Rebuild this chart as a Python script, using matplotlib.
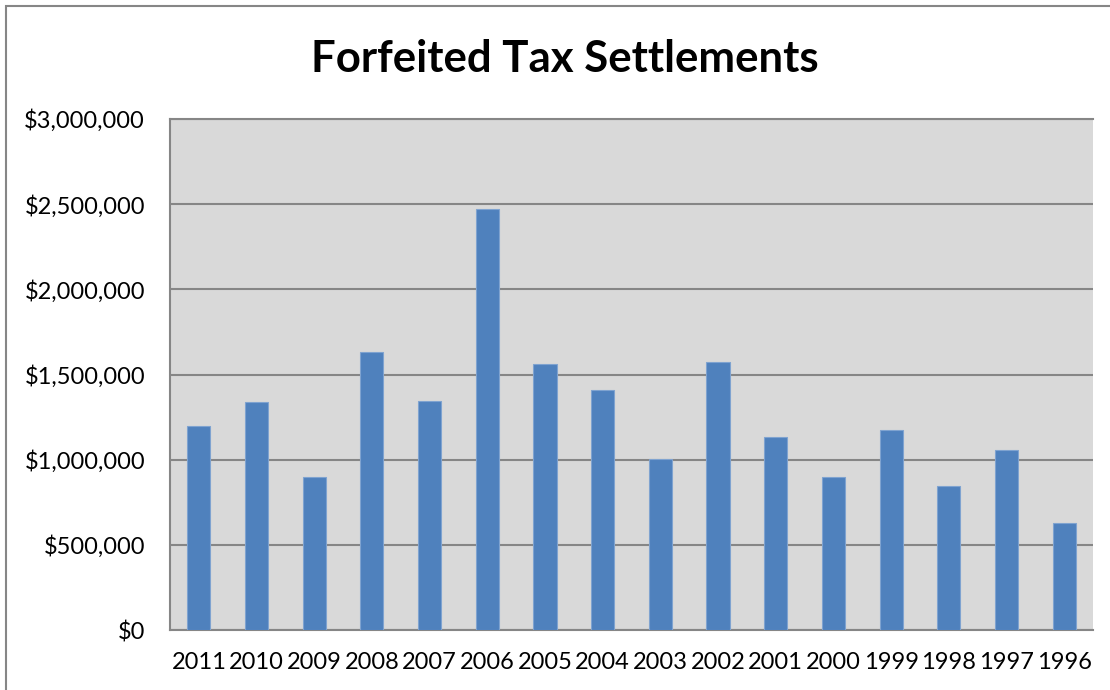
import matplotlib
matplotlib.use("Agg")
import matplotlib.pyplot as plt
from matplotlib.patches import Rectangle
from matplotlib.ticker import FuncFormatter

years = ["2011", "2010", "2009", "2008", "2007", "2006", "2005", "2004",
         "2003", "2002", "2001", "2000", "1999", "1998", "1997", "1996"]
settlements = [1200000, 1339000, 900000, 1635000, 1343000, 2471000, 1564000, 1409000,
               1005000, 1571000, 1136000, 897000, 1173000, 846000, 1056000, 629000]
y_ticks = [0, 500000, 1000000, 1500000, 2000000, 2500000, 3000000]
title = "Forfeited Tax Settlements"

plt.rcParams['font.family'] = ['Lato', 'DejaVu Sans']

W, H = 1110, 690
fig = plt.figure(figsize=(W / 100, H / 100), dpi=100)
fig.patch.set_facecolor("white")

# outer chart border (cut at right/bottom like the reference)
fig.add_artist(Rectangle((6 / W, -0.1), 1.2, (H - 6) / H + 0.1, transform=fig.transFigure,
                         facecolor="none", edgecolor="#868686", linewidth=1.5))

ax = fig.add_axes([170 / W, (H - 630) / H, (1093 - 170) / W, (630 - 119) / H])
ax.set_facecolor("#D9D9D9")
x = list(range(len(years)))
ax.bar(x, settlements, width=0.4, color="#4F81BD", edgecolor="#7FA3D0", linewidth=0.8, zorder=3)
ax.set_xlim(-0.5, len(years) - 0.5)
ax.set_ylim(0, 3000000)
ax.set_yticks(y_ticks)
ax.yaxis.set_major_formatter(FuncFormatter(lambda v, p: "${:,.0f}".format(v)))
ax.set_xticks(x)
ax.set_xticklabels(years)
ax.grid(axis="y", color="#868686", linewidth=1.5, zorder=1)
ax.tick_params(length=0, labelsize=17, colors="black")
ax.tick_params(axis="x", pad=16)
ax.tick_params(axis="y", pad=18)
for s in ["left", "bottom", "top"]:
    ax.spines[s].set_color("#868686")
    ax.spines[s].set_linewidth(1.5)
ax.spines["right"].set_visible(False)

fig.text(565 / W, 1 - 59 / H, title, ha="center", va="center", fontsize=31.5, fontweight="bold")

fig.savefig("out.png", dpi=100)
